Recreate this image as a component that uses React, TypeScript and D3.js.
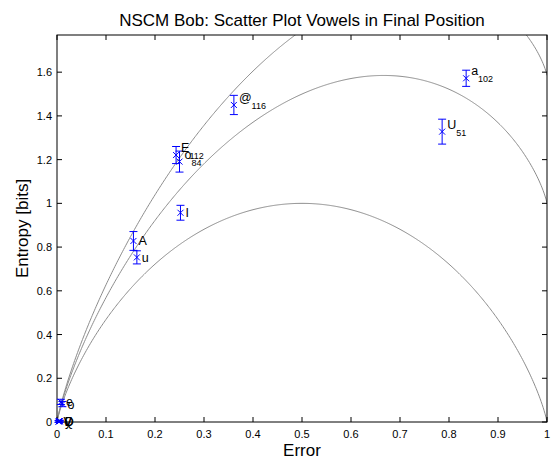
import React from "react";
import * as d3 from "d3";

// Data
const vowelLabels = ["a", "U", "@", "E", "o", "I", "A", "u", "e", "o", "Q", "y", "V", "D"];
const vowelCounts = ["102", "51", "116", "112", "84", "", "", "", "", "", "", "", "", ""];
const errorRates = [0.835, 0.786, 0.361, 0.243, 0.25, 0.252, 0.156, 0.163, 0.008, 0.011, 0.004, 0.006, 0.003, 0.005];
const entropies = [1.572, 1.328, 1.45, 1.221, 1.191, 0.957, 0.828, 0.753, 0.092, 0.082, 0.004, 0.004, 0.002, 0.003];
const errorBars = [0.037, 0.057, 0.044, 0.039, 0.048, 0.034, 0.043, 0.03, 0.012, 0.012, 0.004, 0.004, 0.004, 0.004];

// Fano bound curves: alphabet sizes
const alphabetSizes = [2, 3, 4];

const xTicks = [0, 0.1, 0.2, 0.3, 0.4, 0.5, 0.6, 0.7, 0.8, 0.9, 1];
const yTicks = [0, 0.2, 0.4, 0.6, 0.8, 1, 1.2, 1.4, 1.6];
const xTickLabels = ["0", "0.1", "0.2", "0.3", "0.4", "0.5", "0.6", "0.7", "0.8", "0.9", "1"];
const yTickLabels = ["0", "0.2", "0.4", "0.6", "0.8", "1", "1.2", "1.4", "1.6"];

const W = 553;
const H = 466;
const left = 57;
const right = 547;
const top = 35;
const bottom = 422;
const FONT = "'Liberation Sans', Arial, Helvetica, sans-serif";

export default function App() {
  const x = d3.scaleLinear().domain([0, 1]).range([left, right]);
  const y = d3.scaleLinear().domain([0, 1.77]).range([bottom, top]);

  const h2 = (p: number) =>
    (p <= 0 ? 0 : -p * Math.log2(p)) + (p >= 1 ? 0 : -(1 - p) * Math.log2(1 - p));
  const ps = d3.range(0, 1.0005, 0.002).map((p) => Math.min(p, 1));
  const line = d3
    .line<number>()
    .x((p) => x(p))
    .y((p) => y(p));

  const curves = alphabetSizes.map((M) =>
    line(ps.map((p) => p) as any)
  );
  const curvePaths = alphabetSizes.map((M) =>
    d3
      .line<number>()
      .x((p) => x(p))
      .y((p) => y(h2(p) + p * Math.log2(M - 1)))(ps)
  );

  const tickLen = 5;
  const cap = 4;
  const mk = 3;

  return (
    <svg width={W} height={H} style={{ position: "absolute", left: 0, top: 0, background: "#fff" }}>
      <rect x={0} y={0} width={W} height={H} fill="#fff" />
      <defs>
        <clipPath id="plotclip">
          <rect x={left} y={top} width={right - left} height={bottom - top} />
        </clipPath>
      </defs>
      <text x={302} y={26} textAnchor="middle" fontFamily={FONT} fontSize={17} fill="#000">
        NSCM Bob: Scatter Plot Vowels in Final Position
      </text>

      <g clipPath="url(#plotclip)">
        {curvePaths.map((d, i) => (
          <path key={i} d={d || ""} fill="none" stroke="#8c8c8c" strokeWidth={1} />
        ))}
      </g>

      {/* axes box */}
      <rect x={left} y={top} width={right - left} height={bottom - top} fill="none" stroke="#000" strokeWidth={1} />
      {xTicks.map((t, i) => (
        <g key={"xt" + i}>
          <line x1={x(t)} x2={x(t)} y1={bottom} y2={bottom - tickLen} stroke="#000" />
          <line x1={x(t)} x2={x(t)} y1={top} y2={top + tickLen} stroke="#000" />
          <text x={x(t)} y={438} textAnchor="middle" fontFamily={FONT} fontSize={11} fill="#000">
            {xTickLabels[i]}
          </text>
        </g>
      ))}
      {yTicks.map((t, i) => (
        <g key={"yt" + i}>
          <line x1={left} x2={left + tickLen} y1={y(t)} y2={y(t)} stroke="#000" />
          <line x1={right} x2={right - tickLen} y1={y(t)} y2={y(t)} stroke="#000" />
          <text x={52} y={y(t) + 4} textAnchor="end" fontFamily={FONT} fontSize={11} fill="#000">
            {yTickLabels[i]}
          </text>
        </g>
      ))}

      {/* error bars & markers */}
      {errorRates.map((p, i) => {
        const cx = x(p);
        const cy = y(entropies[i]);
        const y1 = y(entropies[i] + errorBars[i]);
        const y2 = y(entropies[i] - errorBars[i]);
        return (
          <g key={"pt" + i} stroke="#0000ff" strokeWidth={1} fill="none">
            <line x1={cx} x2={cx} y1={y1} y2={y2} />
            <line x1={cx - cap} x2={cx + cap} y1={y1} y2={y1} />
            <line x1={cx - cap} x2={cx + cap} y1={y2} y2={y2} />
            <line x1={cx - mk} x2={cx + mk} y1={cy - mk} y2={cy + mk} />
            <line x1={cx - mk} x2={cx + mk} y1={cy + mk} y2={cy - mk} />
          </g>
        );
      })}

      {/* labels */}
      {errorRates.map((p, i) => {
        const cx = x(p) + 5;
        const cy = y(entropies[i]);
        const sub = vowelCounts[i];
        return (
          <text
            key={"lb" + i}
            x={cx}
            y={sub ? cy - 3 : cy + 4.5}
            fontFamily={FONT}
            fontSize={12.5}
            fill="#000"
          >
            <tspan>{vowelLabels[i]}</tspan>
            {sub ? (
              <tspan dy={7} fontSize={9}>
                {sub}
              </tspan>
            ) : null}
          </text>
        );
      })}

      <text x={302} y={456} textAnchor="middle" fontFamily={FONT} fontSize={17} fill="#000">
        Error
      </text>
      <text
        transform={`translate(28, ${(top + bottom) / 2}) rotate(-90)`}
        textAnchor="middle"
        fontFamily={FONT}
        fontSize={17}
        fill="#000"
      >
        Entropy [bits]
      </text>
    </svg>
  );
}
